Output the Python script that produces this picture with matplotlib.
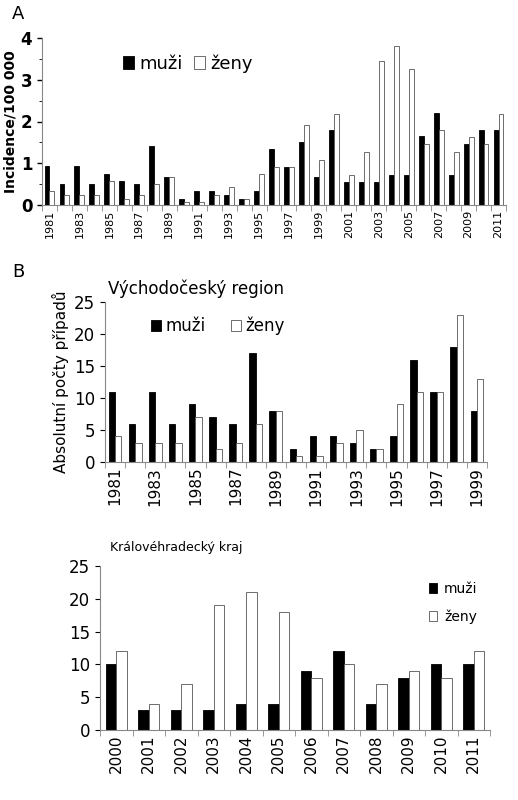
import matplotlib
matplotlib.use("Agg")
import matplotlib.pyplot as plt
import numpy as np

yearsA = list(range(1981, 2012))
muziA = [0.93,0.5,0.93,0.5,0.75,0.58,0.5,1.42,0.67,0.15,0.33,0.33,0.25,0.15,0.33,1.33,0.92,1.5,0.67,1.8,0.55,0.55,0.55,0.72,0.72,1.65,2.2,0.72,1.45,1.8,1.8]
zenyA = [0.33,0.25,0.25,0.25,0.58,0.15,0.25,0.5,0.67,0.08,0.08,0.25,0.42,0.15,0.75,0.92,0.92,1.92,1.08,2.18,0.72,1.28,3.45,3.82,3.25,1.47,1.8,1.28,1.63,1.47,2.18]
yearsB = list(range(1981, 2000))
muziB = [11,6,11,6,9,7,6,17,8,2,4,4,3,2,4,16,11,18,8]
zenyB = [4,3,3,3,7,2,3,6,8,1,1,3,5,2,9,11,11,23,13]
yearsC = list(range(2000, 2012))
muziC = [10,3,3,3,4,4,9,12,4,8,10,10]
zenyC = [12,4,7,19,21,18,8,10,7,9,8,12]

fig = plt.figure(figsize=(5.18, 8.0), dpi=100)
W, H = 518, 800
def ax_at(l, t, r, b):
    return fig.add_axes([l/W, 1-b/H, (r-l)/W, (b-t)/H])

def bars(ax, years, m, z, w, ticks_every, fs, lw=0.6):
    x = np.arange(len(years))
    ax.bar(x - w/2, m, w, color='black', edgecolor='black', lw=lw, label='muži')
    ax.bar(x + w/2, z, w, color='white', edgecolor='#555555', lw=lw, label='ženy')
    ax.set_xlim(-0.5, len(years) - 0.5)
    ax.set_xticks(np.arange(-0.5, len(years)), minor=True)
    ax.set_xticks(x[::ticks_every])
    ax.set_xticklabels([str(y) for y in years[::ticks_every]], rotation=90, fontsize=fs)
    ax.tick_params(axis='x', which='major', length=0)
    ax.tick_params(axis='x', which='minor', length=4, color='#888888')
    for s in ['top', 'right']:
        ax.spines[s].set_visible(False)
    ax.spines['bottom'].set_color('#888888')
    ax.spines['left'].set_color('#888888')
    return x

# A
axA = ax_at(42, 38, 506, 205)
bars(axA, yearsA, muziA, zenyA, 0.33, 2, 8)
axA.set_ylim(0, 4)
axA.set_yticks([0, 1, 2, 3, 4])
axA.set_yticks(np.arange(0, 4.01, 0.5), minor=True)
axA.tick_params(axis='y', labelsize=12, width=1)
for t in axA.get_yticklabels(): t.set_fontweight('bold')
axA.set_ylabel('Incidence/100 000', fontsize=10, fontweight='bold', labelpad=2)
axA.legend(loc='upper left', bbox_to_anchor=(0.14, 1.0), ncol=2, frameon=False, fontsize=13,
           handlelength=0.6, handletextpad=0.3, columnspacing=0.6)
fig.text(12/W, 1-14/H, 'A', fontsize=13, va='center')

# B
axB = ax_at(105, 302, 487, 462)
bars(axB, yearsB, muziB, zenyB, 0.32, 2, 11)
axB.set_ylim(0, 25)
axB.set_yticks(range(0, 26, 5))
axB.tick_params(axis='y', labelsize=12)
axB.set_ylabel('Absolutní počty případů', fontsize=11)
axB.legend(loc='upper left', bbox_to_anchor=(0.08, 1.0), ncol=2, frameon=False, fontsize=12,
           handlelength=0.6, handletextpad=0.3, columnspacing=1.5)
fig.text(108/W, 1-289/H, 'Východočeský region', fontsize=12, va='center')
fig.text(12/W, 1-272/H, 'B', fontsize=13, va='center')

# C
axC = ax_at(100, 566, 490, 730)
bars(axC, yearsC, muziC, zenyC, 0.32, 1, 11)
axC.set_ylim(0, 25)
axC.set_yticks(range(0, 26, 5))
axC.tick_params(axis='y', labelsize=12)
axC.legend(loc='upper right', bbox_to_anchor=(1.0, 0.98), ncol=1, frameon=False, fontsize=10,
           handlelength=0.6, handletextpad=0.5, labelspacing=1.0)
fig.text(110/W, 1-548/H, 'Královéhradecký kraj', fontsize=9, va='center')

fig.savefig('out.png', dpi=100)
